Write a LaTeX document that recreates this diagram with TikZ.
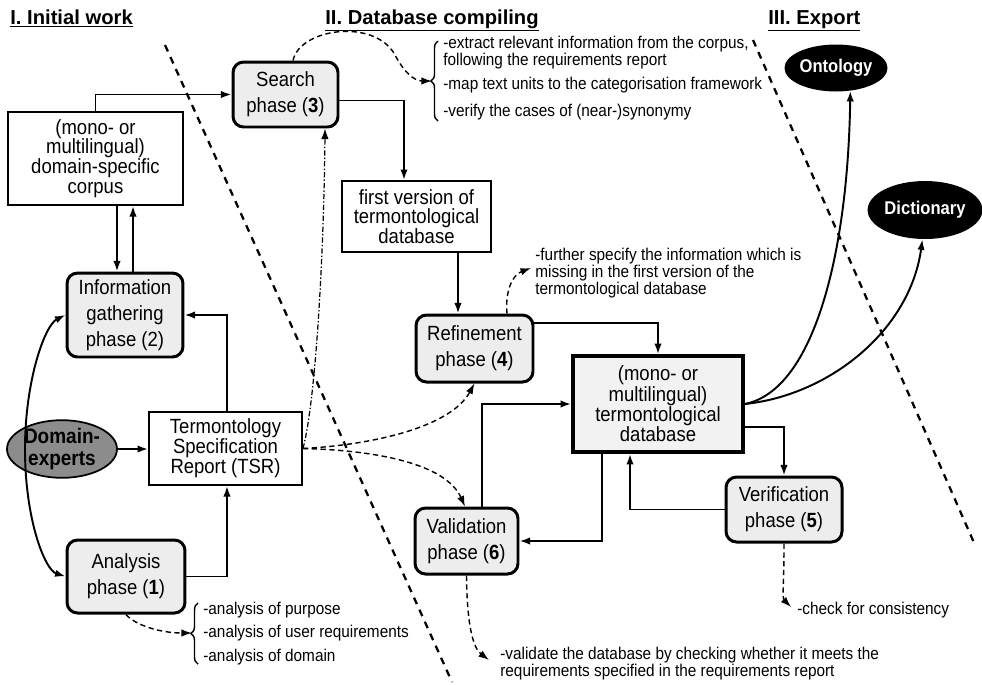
\documentclass[tikz,border=0pt]{standalone}
\usepackage{fontspec}
\setmainfont{Liberation Sans}[FakeStretch=0.9]
\newfontfamily\headfont{Liberation Sans}
\usetikzlibrary{arrows.meta,decorations.pathreplacing,shapes.geometric}
\begin{document}
\begin{tikzpicture}[x=0.02cm,y=-0.02cm,
  tip/.tip={Latex[length=6pt,width=4.2pt]},
  arr/.style={line width=1.1pt,-tip},
  darr/.style={line width=0.8pt,dash pattern=on 3pt off 2pt,-tip},
  ddarr/.style={line width=0.7pt,dash pattern=on 3pt off 1.2pt on 0.8pt off 1.2pt,-tip},
  sep/.style={line width=1.3pt,dash pattern=on 4pt off 3.5pt},
  phasebox/.style={draw,line width=1.7pt,rounded corners=6pt,fill=black!7,align=center,inner sep=0pt,font=\fontsize{11.7}{14.7}\selectfont},
  plainbox/.style={draw,line width=1.1pt,fill=white,align=center,inner sep=0pt,font=\fontsize{11.7}{11.3}\selectfont},
  dbbox/.style={draw,line width=2.1pt,fill=black!5,align=center,inner sep=0pt,font=\fontsize{11.7}{11.6}\selectfont},
  blackell/.style={ellipse,fill=black,text=white,inner sep=0pt,font=\bfseries\fontsize{10.5}{12}\selectfont},
  desc/.style={align=left,inner sep=0pt,font=\fontsize{9.7}{9.6}\selectfont},
  head/.style={inner sep=0pt,font=\headfont\bfseries\fontsize{11.5}{13}\selectfont},
  bracestyle/.style={line width=0.8pt,decorate,decoration={brace,amplitude=4pt}},
]
\useasboundingbox (0,0) rectangle (982,684);

% separators
\coordinate (s1a) at (165,45); \coordinate (s1b) at (452,682);
\coordinate (s2a) at (753,40); \coordinate (s2b) at (975,545);
\draw[sep] (s1a) -- (s1b);
\draw[sep] (s2a) -- (s2b);

% headings
\node[head,anchor=base west] (h1) at (10,24) {\underline{I. Initial work}};
\node[head,anchor=base west] (h2) at (325,24) {\underline{II. Database compiling}};
\node[head,anchor=base west] (h3) at (768,24) {\underline{III. Export}};

% boxes
\node[phasebox,minimum width=2.10cm,minimum height=1.30cm] (search) at (285.5,94.5) {Search\\phase (\textbf{3})};
\node[plainbox,minimum width=3.50cm,minimum height=1.86cm] (corpus) at (95.5,158.5) {(mono- or\\multilingual)\\domain-specific\\corpus};
\node[phasebox,minimum width=2.32cm,minimum height=1.68cm] (info) at (125,315) {Information\\gathering\\phase (2)};
\node[plainbox,minimum width=3.06cm,minimum height=1.46cm] (tsr) at (225.5,448.5) {Termontology\\Specification\\Report (TSR)};
\node[ellipse,draw,line width=1pt,fill=black!45,minimum width=2.2cm,minimum height=1.12cm,inner sep=0pt,align=center,font=\bfseries\fontsize{12}{12}\selectfont] (domain) at (62,449) {Domain-\\experts};
\node[phasebox,minimum width=2.36cm,minimum height=1.46cm] (analysis) at (126,576.5) {Analysis\\phase (\textbf{1})};
\node[plainbox,minimum width=2.98cm,minimum height=1.42cm] (first) at (416.5,216.5) {first version of\\termontological\\database};
\node[phasebox,minimum width=2.34cm,minimum height=1.34cm] (refine) at (474.5,348.5) {Refinement\\phase (\textbf{4})};
\node[dbbox,minimum width=3.40cm,minimum height=1.92cm] (termdb) at (658,404) {(mono- or\\multilingual)\\termontological\\database};
\node[phasebox,minimum width=2.32cm,minimum height=1.30cm] (verif) at (784,509.5) {Verification\\phase (\textbf{5})};
\node[phasebox,minimum width=2.06cm,minimum height=1.32cm] (valid) at (466.5,541) {Validation\\phase (\textbf{6})};
\node[blackell,minimum width=1.84cm,minimum height=0.94cm] (ontology) at (836,68) {Ontology};
\node[blackell,minimum width=2.16cm,minimum height=1.16cm] (dictionary) at (925,210) {Dictionary};

% descriptions
\node[desc,anchor=west] (d3a) at (443,53) {-extract relevant information from the corpus,\\following the requirements report};
\node[desc,anchor=west] (d3b) at (443,85) {-map text units to the categorisation framework};
\node[desc,anchor=west] (d3c) at (443,112) {-verify the cases of (near-)synonymy};
\draw[bracestyle] (438,121) -- (438,41);
\coordinate (b3) at (432,81);

\node[desc,anchor=west] (d1a) at (203,610) {-analysis of purpose};
\node[desc,anchor=west] (d1b) at (203,633) {-analysis of user requirements};
\node[desc,anchor=west] (d1c) at (203,657) {-analysis of domain};
\draw[bracestyle] (198,664) -- (198,603);
\coordinate (b1) at (192,633);

\node[desc,anchor=west] (d4) at (535,273) {-further specify the information which is\\missing in the first version of the\\termontological database};
\coordinate (b4) at (531,268);

\node[desc,anchor=west] (d6) at (500,663.5) {-validate the database by checking whether it meets the\\requirements specified in the requirements report};
\coordinate (b6) at (489,660);

\node[desc,anchor=west] (d5) at (797,610) {-check for consistency};
\coordinate (b5) at (791,607);

% guide coordinates
\coordinate (x117) at (117,0);
\coordinate (x133) at (133,0);
\coordinate (x227) at (227,0);
\coordinate (x404) at (404,0);
\coordinate (x458) at (458,0);
\coordinate (x482) at (482,0);
\coordinate (x602) at (602,0);
\coordinate (x630) at (630,0);
\coordinate (x325) at (325,0);
\coordinate (x465) at (465,0);
\coordinate (dm) at (25,449);

% solid connectors
\draw[arr] (corpus.north) |- (search.west);
\draw[arr] (x117 |- corpus.south) -- (x117 |- info.north);
\draw[arr] (x133 |- info.north) -- (x133 |- corpus.south);
\draw[arr] (x227 |- tsr.north) |- (info.east);
\draw[arr] (domain.east) -- (tsr.west |- domain.east);
\draw[line width=1.1pt,tip-tip] (info.west) .. controls (45,325) and (25,380) .. (dm) .. controls (25,520) and (45,570) .. (analysis.west);
\draw[arr] (analysis.east) -| (x227 |- tsr.south);
\draw[arr] ([yshift=-0.12cm]search.east) -| (x404 |- first.north);
\draw[arr] (x458 |- first.south) -- (x458 |- refine.north);
\draw[arr] ([yshift=0.51cm]refine.east) -| (termdb.north);
\draw[arr] ([yshift=-0.46cm]termdb.east) -| (verif.north);
\draw[arr] (verif.west) -| (x630 |- termdb.south);
\draw[arr] (x602 |- termdb.south) |- (valid.east);
\draw[arr] (x482 |- valid.north) |- (termdb.west);
\draw[arr] (termdb.east) .. controls (815,390) and (848,250) .. (ontology.-58);
\draw[arr] (termdb.east) .. controls (830,395) and (910,330) .. (dictionary.-95);

% dashed connectors
\draw[darr] ([xshift=0.15cm]search.north) .. controls (300,28) and (375,18) .. (395,55) .. controls (404,72) and (414,81) .. (b3);
\draw[darr] (analysis.south) .. controls (135,625) and (160,633) .. (b1);
\draw[darr] ([xshift=0.65cm]refine.north) .. controls (505,292) and (512,275) .. (b4);
\draw[ddarr] (tsr.east) .. controls (316,400) and (324,250) .. (x325 |- search.south);
\draw[darr] (tsr.east) .. controls (370,445) and (450,428) .. (refine.south);
\draw[darr] (tsr.east) .. controls (370,450) and (445,462) .. (x465 |- valid.north);
\draw[darr] (valid.south) .. controls (467,625) and (473,648) .. (b6);
\draw[darr] (verif.south) .. controls (784,585) and (782,598) .. (b5);
\end{tikzpicture}
\end{document}
